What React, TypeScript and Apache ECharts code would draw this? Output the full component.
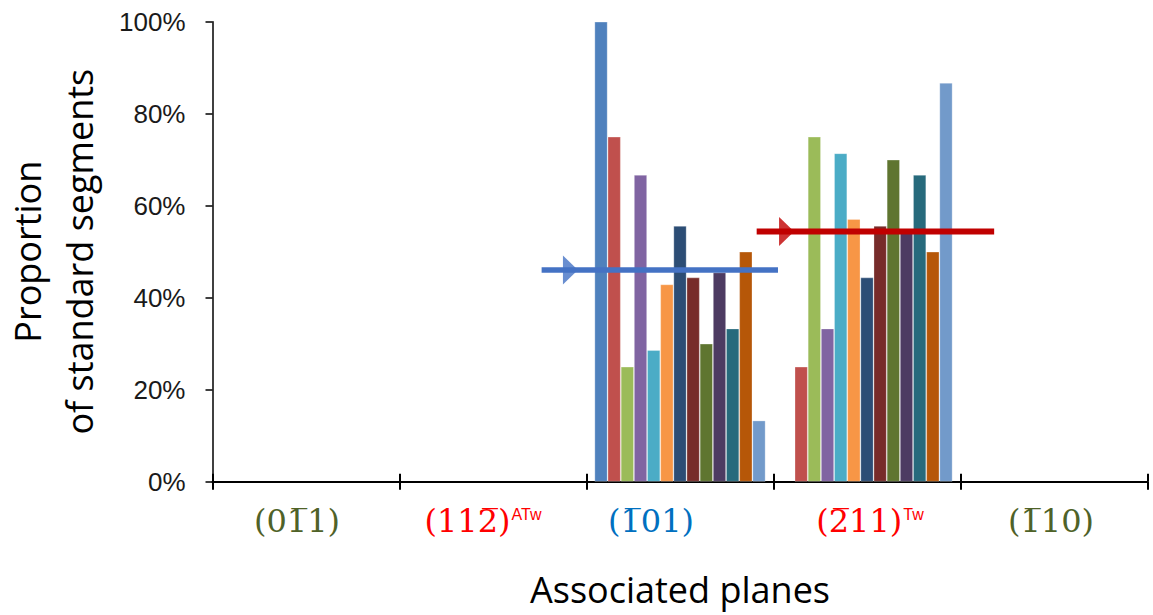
import React, { useEffect, useRef } from 'react';
import * as echarts from 'echarts';

// ---- data ----
const planes: string[] = ['(01\u03051)', '(112\u0305)', '(1\u030501)', '(2\u030511)', '(1\u030510)'];
const planeTags: string[] = ['', 'ATw', '', 'Tw', ''];
const segmentNames: string[] = [
  'S1', 'S2', 'S3', 'S4', 'S5', 'S6', 'S7', 'S8', 'S9', 'S10', 'S11', 'S12', 'S13',
];
// proportions (%) for each standard segment, per associated plane
const values011: (number | null)[] = [];
const values112: (number | null)[] = [];
const values101: (number | null)[] = [100, 75, 25, 66.7, 28.6, 42.9, 55.6, 44.4, 30, 45.5, 33.3, 50, 13.3];
const values211: (number | null)[] = [null, 25, 75, 33.3, 71.4, 57.1, 44.4, 55.6, 70, 54.5, 66.7, 50, 86.7];
const values110: (number | null)[] = [];
const yTicks: number[] = [0, 20, 40, 60, 80, 100];

// average lines (x in category units, y in %)
const blueAverage = { from: 1.76, to: 3.024, arrowAt: 1.914, level: 46.0 };
const redAverage = { from: 2.91, to: 4.18, arrowAt: 3.07, level: 54.4 };

// ---- styles ----
const segmentColors = [
  '#4F81BD', '#C0504D', '#9BBB59', '#8064A2', '#4BACC6', '#F79646',
  '#2C4D75', '#772C2A', '#5F7530', '#4D3B62', '#276A7C', '#B65708', '#729ACA',
];
const labelStyleKey = ['g', 'r', 'b', 'r', 'g'];
const labelShift = [-9, -10, -29, 3, -3];

const planeValues = [values011, values112, values101, values211, values110];

export default function App() {
  const ref = useRef<HTMLDivElement>(null);
  useEffect(() => {
    document.body.style.margin = '0';
    const chart = echarts.init(ref.current!, null, { renderer: 'svg' });

    const barSeries = segmentNames.map((name, i) => ({
      name,
      type: 'bar',
      xAxisIndex: 0,
      yAxisIndex: 0,
      barGap: '0%',
      barCategoryGap: '8.5%',
      itemStyle: {
        color: segmentColors[i],
        borderColor: 'rgba(255,255,255,0.35)',
        borderWidth: 0.8,
      },
      data: planeValues.map((vals) => (vals[i] ?? null)),
    }));

    const mainFont = 'DejaVu Serif';
    const fs = 32;
    const rich: any = {
      g: { fontFamily: mainFont, fontSize: fs, color: '#4F6228' },
      r: { fontFamily: mainFont, fontSize: fs, color: '#FF0000' },
      b: { fontFamily: mainFont, fontSize: fs, color: '#0070C0' },
      sup: { fontFamily: 'Liberation Sans', fontSize: 16, color: '#FF0000', verticalAlign: 'top', padding: [2, 0, 0, 1] },
    };
    labelShift.forEach((s, i) => {
      rich['sp' + i] = { width: Math.abs(s) * 2, fontSize: fs };
    });

    const fmt = (value: string, index: number) => {
      const key = labelStyleKey[index];
      let s = `{${key}|${planes[index]}}`;
      if (planeTags[index]) s += `{sup|${planeTags[index]}}`;
      const shift = labelShift[index];
      if (shift < 0) s = s + `{sp${index}| }`;
      else if (shift > 0) s = `{sp${index}| }` + s;
      return s;
    };

    chart.setOption({
      animation: false,
      backgroundColor: '#ffffff',
      grid: {
        left: 212.5, right: 5.5, top: 21.7, bottom: 133.3,
        containLabel: false, outerBoundsMode: 'none',
      },
      xAxis: [
        {
          type: 'category',
          data: planes,
          position: 'bottom',
          boundaryGap: true,
          axisLine: { show: true, lineStyle: { color: '#000', width: 2 } },
          axisTick: { show: true, alignWithLabel: false, length: 8, lineStyle: { color: '#000', width: 2 } },
          axisLabel: { show: true, margin: 23, formatter: fmt, rich },
          splitLine: { show: false },
          name: 'Associated planes',
          nameLocation: 'middle',
          nameGap: 90,
          nameTextStyle: { fontFamily: 'Open Sans', fontSize: 36, color: '#000' },
        },
        {
          type: 'value',
          min: 0,
          max: 5,
          interval: 1,
          position: 'bottom',
          axisLine: { show: false },
          axisTick: { show: true, inside: true, length: 8, lineStyle: { color: '#000', width: 2 } },
          axisLabel: { show: false },
          splitLine: { show: false },
        },
      ],
      yAxis: {
        type: 'value',
        min: 0,
        max: 100,
        interval: 20,
        axisLine: { show: true, lineStyle: { color: '#000', width: 1.5 } },
        axisTick: { show: true, length: 7, lineStyle: { color: '#000', width: 1.5 } },
        splitLine: { show: false },
        axisLabel: {
          margin: 27,
          fontFamily: 'Liberation Sans',
          fontSize: 26,
          color: '#1a1a1a',
          formatter: (v: number) => (yTicks.includes(v) ? `${v}%` : ''),
        },
        name: 'Proportion\nof standard segments',
        nameLocation: 'middle',
        nameRotate: 90,
        nameGap: 107.5,
        nameTextStyle: { fontFamily: 'Open Sans', fontSize: 36, lineHeight: 52, color: '#000' },
      },
      series: [
        ...barSeries,
        {
          name: 'Average (1̅01)',
          type: 'line',
          xAxisIndex: 1,
          yAxisIndex: 0,
          symbol: 'none',
          silent: true,
          lineStyle: { color: '#4472C4', width: 5.5 },
          data: [[blueAverage.from, blueAverage.level], [blueAverage.to, blueAverage.level]],
        },
        {
          name: 'Arrow (1̅01)',
          type: 'scatter',
          xAxisIndex: 1,
          yAxisIndex: 0,
          symbol: 'triangle',
          symbolRotate: -90,
          symbolSize: [29, 15],
          silent: true,
          itemStyle: { color: '#4472C4' },
          data: [[blueAverage.arrowAt, blueAverage.level]],
        },
        {
          name: 'Average (2̅11)',
          type: 'line',
          xAxisIndex: 1,
          yAxisIndex: 0,
          symbol: 'none',
          silent: true,
          lineStyle: { color: '#C00000', width: 6 },
          data: [[redAverage.from, redAverage.level], [redAverage.to, redAverage.level]],
        },
        {
          name: 'Arrow (2̅11)',
          type: 'scatter',
          xAxisIndex: 1,
          yAxisIndex: 0,
          symbol: 'triangle',
          symbolRotate: -90,
          symbolSize: [29, 15],
          silent: true,
          itemStyle: { color: '#C00000' },
          data: [[redAverage.arrowAt, redAverage.level]],
        },
      ],
    });
    return () => chart.dispose();
  }, []);
  return (
    <div
      ref={ref}
      style={{ position: 'absolute', left: 0, top: 0, width: 1153, height: 615, background: '#fff' }}
    />
  );
}
